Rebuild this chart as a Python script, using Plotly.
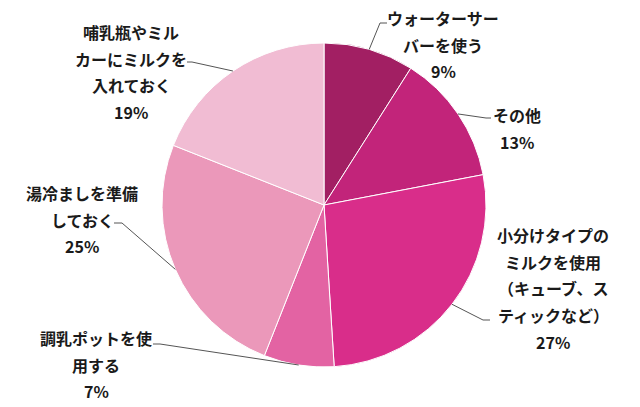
import plotly.graph_objects as go
import math

# data
categories = [
    "ウォーターサー<br>バーを使う",
    "その他",
    "小分けタイプの<br>ミルクを使用<br>（キューブ、ス<br>ティックなど）",
    "調乳ポットを使<br>用する",
    "湯冷ましを準備<br>しておく",
    "哺乳瓶やミル<br>カーにミルクを<br>入れておく",
]
values = [9, 13, 27, 7, 25, 19]
colors = ["#A21F63", "#C2247A", "#D92D8A", "#E363A3", "#EB98BA", "#F1BCD3"]

# layout helpers (pixels)
W, H = 640, 407
cx, cy, r = 324, 205, 162
label_pos = [(443, 18), (517, 115), (553, 235), (96, 338), (82, 193), (131, 32)]
elbows = [
    [(380, 23), (387, 23)],
    [(486, 118), (491, 118)],
    [(483, 320), (490, 320)],
    [(160, 344), (153, 344)],
    [(122, 223), (114, 223)],
    [(192, 62), (187, 62)],
]
line_gap = 26.7


def px(x, y):
    return x / W, 1 - y / H


fig = go.Figure(
    go.Pie(
        labels      = [c.replace("<br>", "") for c in categories],
        values      = values,
        sort        = False,
        direction   = "clockwise",
        rotation    = 0,
        textinfo    = "none",
        hoverinfo   = "label+percent",
        marker      = {"colors": colors, "line": {"color": "white", "width": 1}},
        domain      = {
            "x": [(cx - r) / W, (cx + r) / W],
            "y": [1 - (cy + r) / H, 1 - (cy - r) / H],
        },
    )
)

annotations = []
shapes = []
total = sum(values)
cum = 0

for i, (cat, val) in enumerate(zip(categories, values)):
    lines = cat.split("<br>") + [f"{round(val / total * 100)}%"]
    lx, ly = label_pos[i]
    for j, line in enumerate(lines):
        x, y = px(lx, ly + j * line_gap)
        annotations.append(dict(
            x = x, y = y, xref = "paper", yref = "paper",
            text = line, showarrow = False,
            xanchor = "center", yanchor = "middle",
            font = {"family": "Noto Sans CJK JP", "size": 16, "color": "#1a1a1a", "weight": "bold"},
        ))

    # leader line from slice edge
    mid = (cum + val / 2) / total * 2 * math.pi
    cum += val
    ex, ey = cx + r * math.sin(mid), cy - r * math.cos(mid)
    pts = [(ex, ey)] + elbows[i]
    path = "M " + " L ".join(f"{px(a, b)[0]},{px(a, b)[1]}" for a, b in pts)
    shapes.append(dict(
        type = "path", path = path, xref = "paper", yref = "paper",
        line = {"color": "#555555", "width": 1},
    ))

fig.update_layout(
    width           = W,
    height          = H,
    margin          = {"l": 0, "r": 0, "t": 0, "b": 0},
    showlegend      = False,
    paper_bgcolor   = "white",
    annotations     = annotations,
    shapes          = shapes,
)

fig.write_html(
    "out.html",
    config      = {"displayModeBar": False},
    post_script = "document.body.style.margin = '0';",
)
